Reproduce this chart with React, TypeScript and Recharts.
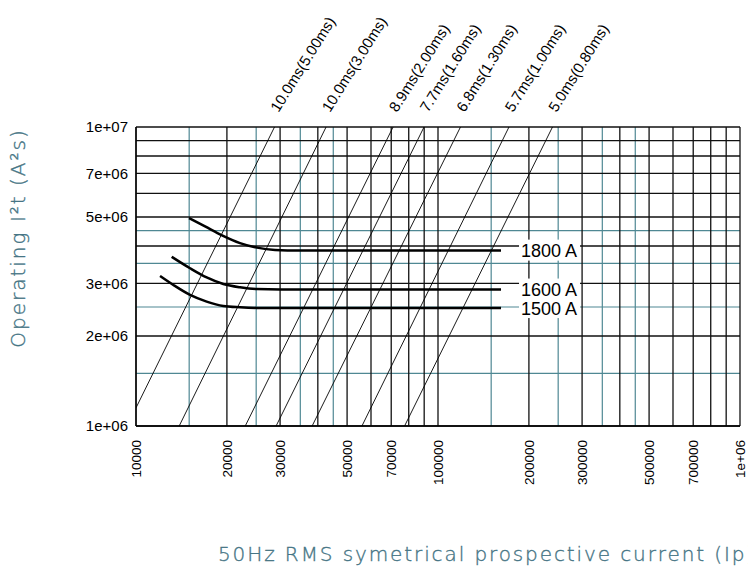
import React from "react";
import { LineChart, Line, XAxis, YAxis, CartesianGrid } from "recharts";

// tick labels
const xTicks = [10000, 20000, 30000, 50000, 70000, 100000, 200000, 300000, 500000, 700000, 1000000];
const xTickLabels = ["10000", "20000", "30000", "50000", "70000", "100000", "200000", "300000", "500000", "700000", "1e+06"];
const yTicks = [1e6, 2e6, 3e6, 5e6, 7e6, 1e7];
const yTickLabels = ["1e+06", "2e+06", "3e+06", "5e+06", "7e+06", "1e+07"];

// grid values
const xGridBlack = [
  10000, 20000, 30000, 40000, 50000, 60000, 70000, 80000, 90000,
  100000, 200000, 300000, 400000, 500000, 600000, 700000, 800000, 900000, 1000000,
];
const xGridTeal = [15000, 25000, 35000, 45000, 150000, 250000, 350000, 450000];
const yGridBlack = [1e6, 2e6, 3e6, 4e6, 5e6, 6e6, 7e6, 8e6, 9e6, 1e7];
const yGridTeal = [1.5e6, 2.5e6, 3.5e6, 4.5e6];

// constant virtual pre-arcing time lines: [current, I2t] at both ends
const diagLabels = [
  "10.0ms(5.00ms)", "10.0ms(3.00ms)", "8.9ms(2.00ms)", "7.7ms(1.60ms)",
  "6.8ms(1.30ms)", "5.7ms(1.00ms)", "5.0ms(0.80ms)",
];
const diagStart = [
  [10000, 1.15e6], [13900, 1e6], [23000, 1e6], [29100, 1e6],
  [38300, 1e6], [56000, 1e6], [77500, 1e6],
];
const diagEnd = [
  [28750, 1e7], [42600, 1e7], [71000, 1e7], [89900, 1e7],
  [118700, 1e7], [171800, 1e7], [239400, 1e7],
];

// operating I2t curves
const curveLabels = ["1800 A", "1600 A", "1500 A"];
const curve1800 = [
  [14980, 4.96e6], [16930, 4.65e6], [19270, 4.34e6], [22100, 4.09e6],
  [25160, 3.95e6], [28860, 3.88e6], [34900, 3.86e6], [161700, 3.86e6],
];
const curve1600 = [
  [13130, 3.68e6], [15100, 3.37e6], [17140, 3.14e6], [19460, 2.985e6],
  [22100, 2.91e6], [25100, 2.87e6], [30000, 2.86e6], [161700, 2.86e6],
];
const curve1500 = [
  [12010, 3.175e6], [13290, 2.963e6], [15100, 2.744e6], [17140, 2.606e6],
  [19460, 2.52e6], [22100, 2.495e6], [25100, 2.483e6], [30000, 2.48e6], [161700, 2.48e6],
];

const toRows = (pts: number[][]) => pts.map(([x, y]) => ({ x, y }));
const curves = [curve1800, curve1600, curve1500];

const TEAL = "#4f8893";
const TITLE = "#467585";
const TICK_FONT = "'Liberation Sans', Arial, sans-serif";
const TITLE_FONT = "'DejaVu Sans', sans-serif";

const XTick = (props: any) => {
  const { x, payload } = props;
  const i = xTicks.indexOf(payload.value);
  const y = 440;
  return (
    <text
      x={x}
      y={y}
      dy="0.36em"
      textAnchor="end"
      transform={`rotate(-90, ${x}, ${y})`}
      fontSize={13.5}
      fontFamily={TICK_FONT}
      fill="#000"
    >
      {i >= 0 ? xTickLabels[i] : payload.value}
    </text>
  );
};

const diagLabel = (text: string) => (props: any) => {
  const { x, y, index } = props;
  if (index !== 1) return null;
  const bx = x + 4;
  const by = y - 14;
  return (
    <text
      x={bx}
      y={by}
      transform={`rotate(-58, ${bx}, ${by})`}
      fontSize={15}
      fontFamily={TICK_FONT}
      fill="#000"
    >
      {text}
    </text>
  );
};

const curveLabel = (text: string, last: number) => (props: any) => {
  const { x, y, index } = props;
  if (index !== last) return null;
  const tx = x + 20;
  return (
    <g>
      <rect x={tx - 2} y={y - 11} width={61} height={21} fill="#fff" />
      <text x={tx} y={y} dy="0.36em" fontSize={18} fontFamily={TICK_FONT} fill="#000">
        {text}
      </text>
    </g>
  );
};

export default function App() {
  return (
    <div style={{ position: "absolute", left: 0, top: 0, width: 748, height: 566, background: "#fff", overflow: "hidden" }}>
      <LineChart width={748} height={566} margin={{ top: 127, right: 8, left: 0, bottom: 0 }}>
        <CartesianGrid
          horizontalValues={yGridTeal}
          verticalValues={xGridTeal}
          stroke={TEAL}
          strokeWidth={1.2}
        />
        <CartesianGrid
          horizontalValues={yGridBlack}
          verticalValues={xGridBlack}
          stroke="#111"
          strokeWidth={1.3}
        />
        <XAxis
          type="number"
          dataKey="x"
          scale="log"
          domain={[10000, 1000000]}
          allowDataOverflow
          ticks={xTicks}
          interval={0}
          tick={<XTick />}
          tickLine={false}
          axisLine={{ stroke: "#000", strokeWidth: 1.3 }}
          height={140}
        />
        <YAxis
          type="number"
          dataKey="y"
          scale="log"
          domain={[1e6, 1e7]}
          allowDataOverflow
          ticks={yTicks}
          interval={0}
          tickFormatter={(v: number) => yTickLabels[yTicks.indexOf(v)] ?? String(v)}
          tick={{ fontSize: 15, fill: "#000", fontFamily: TICK_FONT }}
          tickLine={false}
          axisLine={{ stroke: "#000", strokeWidth: 1.3 }}
          width={136}
        />
        {diagLabels.map((lab, i) => (
          <Line
            key={lab + i}
            data={toRows([diagStart[i], diagEnd[i]])}
            dataKey="y"
            stroke="#000"
            strokeWidth={0.9}
            dot={false}
            activeDot={false}
            isAnimationActive={false}
            label={diagLabel(lab)}
          />
        ))}
        {curves.map((c, i) => (
          <Line
            key={curveLabels[i]}
            data={toRows(c)}
            dataKey="y"
            type="monotone"
            stroke="#000"
            strokeWidth={2.5}
            dot={false}
            activeDot={false}
            isAnimationActive={false}
            label={curveLabel(curveLabels[i], c.length - 1)}
          />
        ))}
      </LineChart>
      <svg
        width={748}
        height={566}
        style={{ position: "absolute", left: 0, top: 0, pointerEvents: "none" }}
      >
        <text
          x={25}
          y={238}
          transform="rotate(-90, 25, 238)"
          textAnchor="middle"
          fontSize={20}
          fontWeight={200}
          letterSpacing={2}
          fontFamily={TITLE_FONT}
          fill={TITLE}
          stroke={TITLE}
          strokeWidth={0.35}
        >
          Operating I²t (A²s)
        </text>
        <text
          x={218}
          y={561}
          fontSize={20}
          fontWeight={200}
          letterSpacing={1.9}
          fontFamily={TITLE_FONT}
          fill={TITLE}
          stroke={TITLE}
          strokeWidth={0.35}
        >
          50Hz RMS symetrical prospective current (Ip)
        </text>
      </svg>
    </div>
  );
}
